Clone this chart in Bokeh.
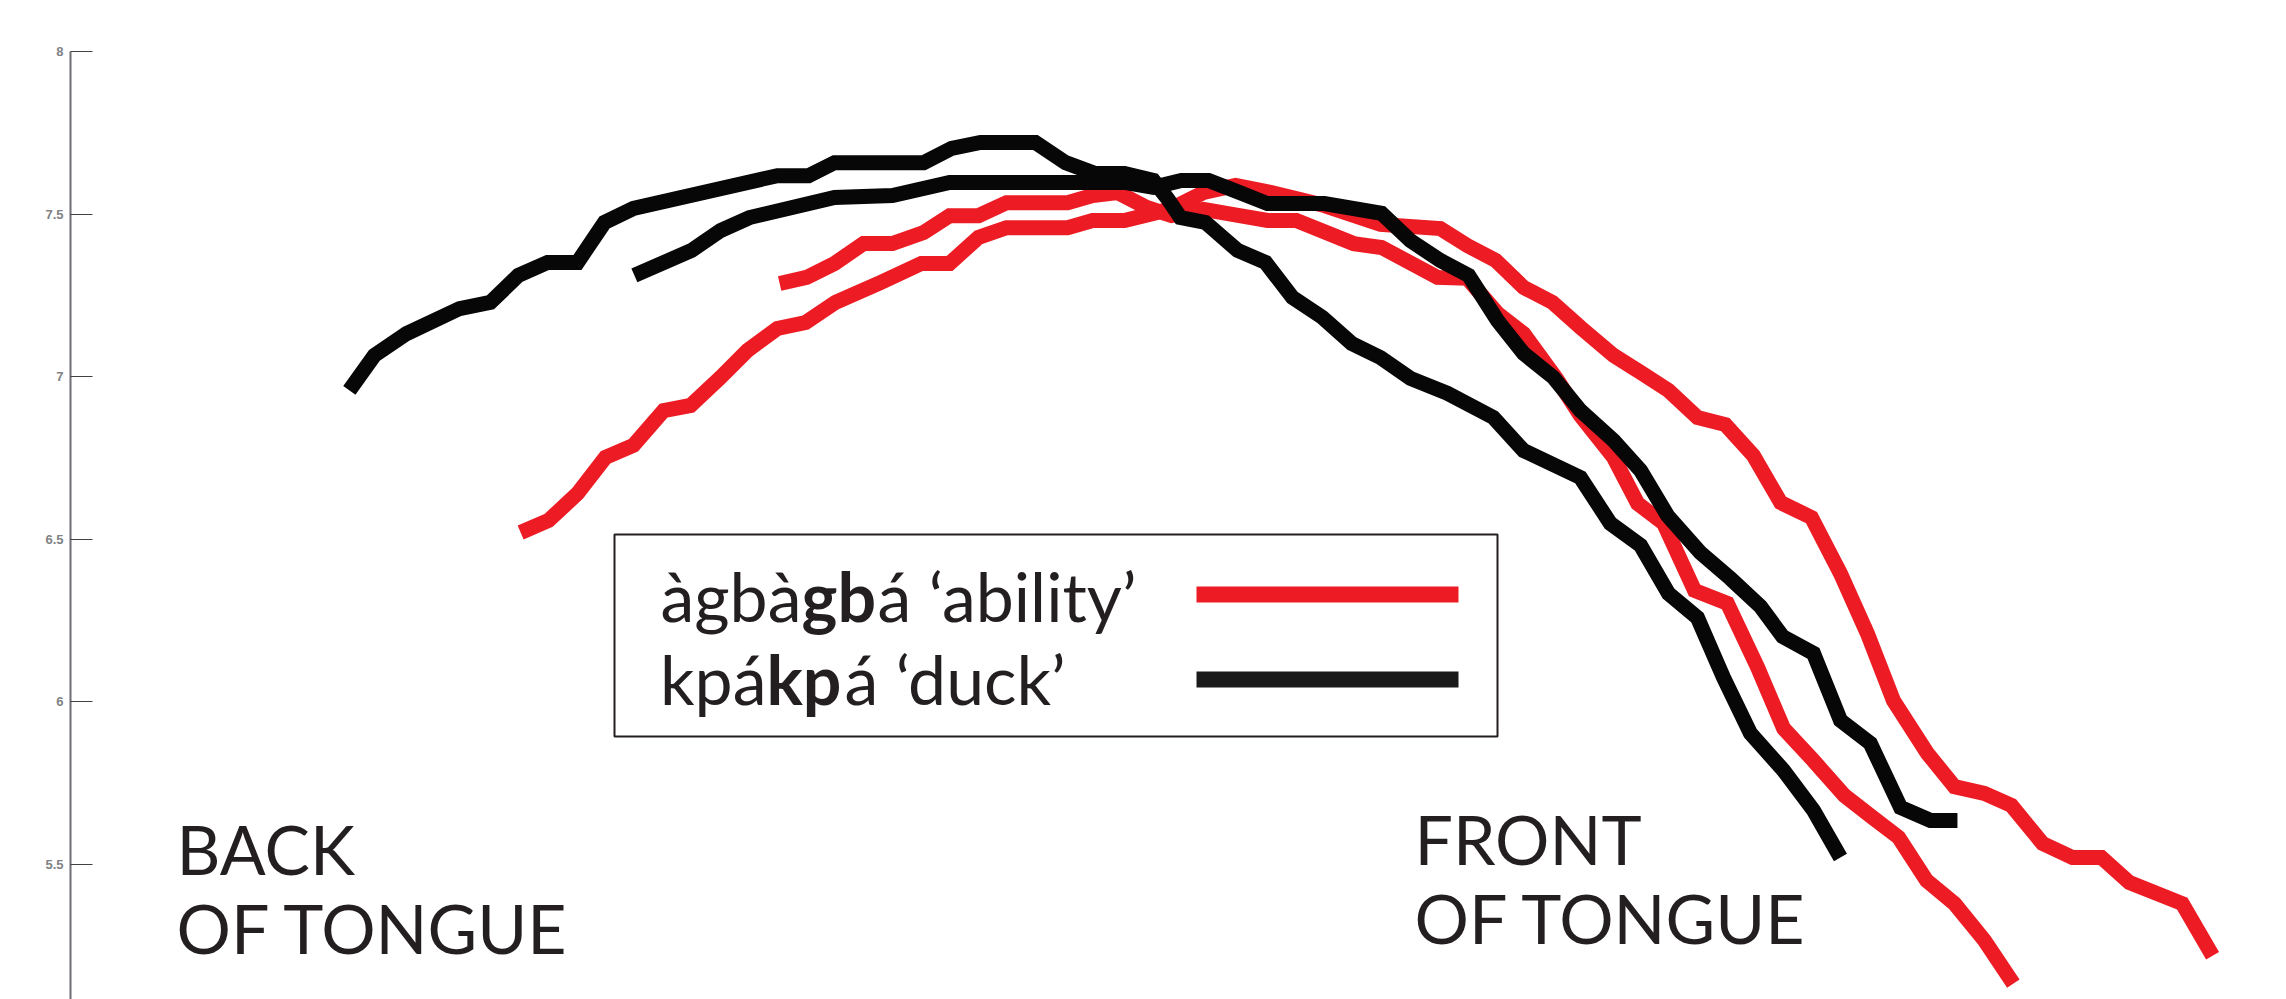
from bokeh.plotting import figure
from bokeh.models import Range1d, FixedTicker, Label, BoxAnnotation, CustomJSTickFormatter
from bokeh.embed import file_html
from bokeh.resources import INLINE

# Tongue contours (cm): x runs from the back of the tongue to the front,
# y is the height of the tongue surface.
agbagba_a_x = [1.385, 1.471, 1.560, 1.646, 1.732, 1.825, 1.908, 2.000, 2.083, 2.175,
               2.262, 2.354, 2.492, 2.618, 2.705, 2.794, 2.880, 3.068, 3.145, 3.243,
               3.332, 3.388, 3.486, 3.585, 3.695, 3.858, 4.031, 4.215, 4.298, 4.385,
               4.471, 4.560, 4.646, 4.748, 4.837, 4.917, 5.006, 5.092, 5.178, 5.262,
               5.357, 5.446, 5.529, 5.609, 5.714, 5.797, 5.889, 5.972, 6.068, 6.160,
               6.249, 6.335, 6.498, 6.591]
agbagba_a_y = [6.520, 6.557, 6.640, 6.751, 6.788, 6.895, 6.911, 6.997, 7.080, 7.148,
               7.166, 7.228, 7.289, 7.348, 7.348, 7.428, 7.458, 7.458, 7.480, 7.480,
               7.502, 7.517, 7.566, 7.588, 7.566, 7.526, 7.468, 7.455, 7.403, 7.357,
               7.274, 7.228, 7.151, 7.065, 7.009, 6.957, 6.874, 6.852, 6.757, 6.612,
               6.566, 6.394, 6.209, 6.003, 5.840, 5.738, 5.717, 5.680, 5.563, 5.520,
               5.520, 5.443, 5.378, 5.218]

agbagba_b_x = [2.182, 2.265, 2.351, 2.440, 2.529, 2.625, 2.705, 2.794, 2.880, 3.068,
               3.145, 3.222, 3.311, 3.388, 3.486, 3.597, 3.683, 3.772, 3.948, 4.034,
               4.206, 4.298, 4.391, 4.471, 4.572, 4.646, 4.748, 4.822, 4.902, 4.997,
               5.098, 5.191, 5.271, 5.363, 5.458, 5.545, 5.625, 5.711, 5.797, 5.889,
               5.978]
agbagba_b_y = [7.286, 7.305, 7.348, 7.409, 7.409, 7.443, 7.495, 7.495, 7.535, 7.535,
               7.557, 7.566, 7.520, 7.495, 7.514, 7.495, 7.480, 7.480, 7.409, 7.397,
               7.305, 7.302, 7.194, 7.132, 6.994, 6.880, 6.751, 6.609, 6.548, 6.342,
               6.302, 6.105, 5.917, 5.818, 5.711, 5.643, 5.582, 5.449, 5.378, 5.265,
               5.132]

kpakpa_a_x = [0.858, 0.935, 1.034, 1.197, 1.292, 1.378, 1.468, 1.560, 1.643, 1.732,
              2.175, 2.271, 2.351, 2.625, 2.711, 2.800, 2.969, 3.062, 3.151, 3.243,
              3.332, 3.375, 3.415, 3.492, 3.591, 3.677, 3.760, 3.852, 3.942, 4.031,
              4.123, 4.237, 4.378, 4.471, 4.646, 4.738, 4.831, 4.917, 5.006, 5.086,
              5.169, 5.271, 5.363, 5.446]
kpakpa_a_y = [6.957, 7.065, 7.132, 7.209, 7.228, 7.311, 7.351, 7.351, 7.474, 7.517,
              7.618, 7.618, 7.658, 7.658, 7.702, 7.720, 7.720, 7.658, 7.625, 7.625,
              7.603, 7.548, 7.489, 7.474, 7.388, 7.351, 7.243, 7.182, 7.102, 7.058,
              6.994, 6.948, 6.874, 6.772, 6.689, 6.548, 6.480, 6.332, 6.258, 6.074,
              5.902, 5.788, 5.665, 5.520]

kpakpa_b_x = [1.735, 1.911, 2.000, 2.089, 2.351, 2.529, 2.705, 3.243, 3.332, 3.418,
              3.502, 3.597, 3.683, 3.858, 4.034, 4.123, 4.215, 4.302, 4.391, 4.471,
              4.563, 4.646, 4.748, 4.831, 4.914, 5.015, 5.108, 5.200, 5.268, 5.363,
              5.446, 5.538, 5.631, 5.723, 5.806]
kpakpa_b_y = [7.311, 7.388, 7.449, 7.489, 7.551, 7.557, 7.597, 7.597, 7.582, 7.603,
              7.603, 7.566, 7.532, 7.532, 7.502, 7.418, 7.357, 7.311, 7.172, 7.071,
              6.997, 6.895, 6.803, 6.711, 6.572, 6.458, 6.378, 6.292, 6.200, 6.148,
              5.942, 5.871, 5.674, 5.634, 5.634]

y_ticks = [5.5, 6.0, 6.5, 7.0, 7.5, 8.0]

RED = "#ED1C24"
BLACK = "#070707"
INK = "#231F20"

# canvas geometry
W, H = 2286, 999
LEFT, TOP = 70, 51
PX_PER_CM = 325.0
Y_TOP = 8.0
X_END = (W - LEFT) / PX_PER_CM
Y_BOTTOM = Y_TOP - (H - TOP) / PX_PER_CM


def cx(px):
    return (px - LEFT) / PX_PER_CM


def cy(py):
    return Y_TOP - (py - TOP) / PX_PER_CM


p = figure(width=W, height=H, x_range=Range1d(0, X_END), y_range=Range1d(Y_BOTTOM, Y_TOP),
           output_backend="svg", toolbar_location=None, x_axis_location=None,
           min_border_left=LEFT, min_border_top=TOP, min_border_right=0, min_border_bottom=0)
p.grid.visible = False
p.outline_line_color = None
p.background_fill_color = "white"
p.border_fill_color = "white"

ax = p.yaxis[0]
ax.ticker = FixedTicker(ticks=y_ticks)
ax.formatter = CustomJSTickFormatter(code="return String(tick)")
ax.axis_line_color = "#6D6E71"
ax.axis_line_width = 2
ax.major_tick_line_color = "#414042"
ax.major_tick_line_width = 1
ax.major_tick_in = 22
ax.major_tick_out = 0
ax.minor_tick_line_color = None
ax.major_label_standoff = 7
ax.major_label_text_font = "Liberation Sans"
ax.major_label_text_font_size = "13px"
ax.major_label_text_font_style = "bold"
ax.major_label_text_color = "#808285"

LW = 15
for xs, ys in ((agbagba_a_x, agbagba_a_y), (agbagba_b_x, agbagba_b_y)):
    p.line(xs, ys, line_color=RED, line_width=LW, line_join="miter")
for xs, ys in ((kpakpa_a_x, kpakpa_a_y), (kpakpa_b_x, kpakpa_b_y)):
    p.line(xs, ys, line_color=BLACK, line_width=LW, line_join="miter")

FONT = "Lato"
FS = "68px"


def put(text, px, py, align="left", style="normal"):
    p.add_layout(Label(x=cx(px), y=cy(py), text=text, text_font=FONT, text_font_size=FS,
                       text_font_style=style, text_color=INK, text_align=align,
                       text_baseline="alphabetic"))


# side labels
put("BACK", 176, 848)
put("OF TONGUE", 176, 927)
put("FRONT", 1414, 838)
put("OF TONGUE", 1414, 917)

# legend frame and swatches
p.add_layout(BoxAnnotation(left=cx(614), right=cx(1497), top=cy(534), bottom=cy(736),
                           fill_alpha=0, line_color=INK, line_width=2, line_alpha=1))
p.add_layout(BoxAnnotation(left=cx(1196), right=cx(1458), top=cy(586), bottom=cy(602),
                           fill_color=RED, fill_alpha=1, line_alpha=0))
p.add_layout(BoxAnnotation(left=cx(1196), right=cx(1458), top=cy(671), bottom=cy(687),
                           fill_color="#1A1A1A", fill_alpha=1, line_alpha=0))

# legend entries, with the doubled consonant in bold
put("àgbà", 801, 595, align="right")
put("gb", 801, 595, style="bold")
put("á ‘ability’", 877, 595)
put("kpá", 766, 678, align="right")
put("kp", 766, 678, style="bold")
put("á ‘duck’", 844, 678)

open("out.html", "w").write(file_html(p, INLINE))
